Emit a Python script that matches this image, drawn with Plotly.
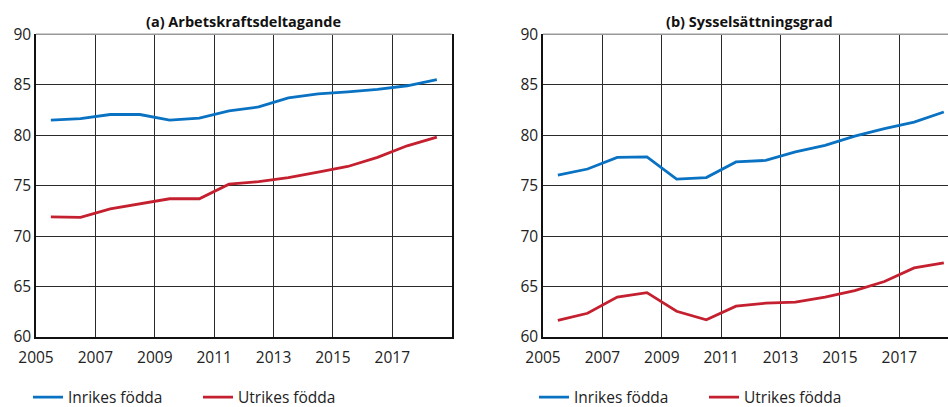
import plotly.graph_objects as go

years = [2005.5, 2006.5, 2007.5, 2008.5, 2009.5, 2010.5, 2011.5, 2012.5,
         2013.5, 2014.5, 2015.5, 2016.5, 2017.5, 2018.5]

# (a) Arbetskraftsdeltagande
a_inrikes = [81.5, 81.65, 82.05, 82.05, 81.5, 81.7, 82.4, 82.8,
             83.7, 84.1, 84.3, 84.55, 84.9, 85.5]
a_utrikes = [71.9, 71.85, 72.7, 73.2, 73.7, 73.7, 75.15, 75.4,
             75.8, 76.35, 76.9, 77.8, 78.95, 79.8]

# (b) Sysselsättningsgrad
b_inrikes = [76.05, 76.65, 77.8, 77.85, 75.65, 75.8, 77.35, 77.5,
             78.35, 79.0, 79.9, 80.65, 81.3, 82.3]
b_utrikes = [61.65, 62.35, 63.95, 64.4, 62.55, 61.7, 63.05, 63.35,
             63.45, 63.95, 64.6, 65.5, 66.85, 67.35]

series_names = ["Inrikes födda", "Utrikes födda"]
titles = ["(a) Arbetskraftsdeltagande", "(b) Sysselsättningsgrad"]
x_ticks = [2005, 2007, 2009, 2011, 2013, 2015, 2017]
y_ticks = [60, 65, 70, 75, 80, 85, 90]

BLUE = "#0a72c2"
RED = "#c4202f"
FONT = "Open Sans"
GRID = "#2a2a2a"

W, H = 948, 407
def px_x(p):
    return p / W
def px_y(p):
    return 1 - p / H

fig = go.Figure()

fig.add_trace(go.Scatter(x=years, y=a_inrikes, name=series_names[0], mode="lines",
                         line=dict(color=BLUE, width=2.8), xaxis="x", yaxis="y",
                         legend="legend"))
fig.add_trace(go.Scatter(x=years, y=a_utrikes, name=series_names[1], mode="lines",
                         line=dict(color=RED, width=2.8), xaxis="x", yaxis="y",
                         legend="legend"))
fig.add_trace(go.Scatter(x=years, y=b_inrikes, name=series_names[0], mode="lines",
                         line=dict(color=BLUE, width=2.8), xaxis="x2", yaxis="y2",
                         legend="legend2"))
fig.add_trace(go.Scatter(x=years, y=b_utrikes, name=series_names[1], mode="lines",
                         line=dict(color=RED, width=2.8), xaxis="x2", yaxis="y2",
                         legend="legend2"))

ydom = [px_y(337), px_y(34.3)]
xdom1 = [px_x(36), px_x(451.7)]
xdom2 = [px_x(543), 1.0]

xcommon = dict(tickvals=x_ticks, ticktext=[str(v) for v in x_ticks],
               showgrid=True, gridcolor=GRID, gridwidth=1.3,
               showline=True, linecolor="#111111", linewidth=1.5,
               zeroline=False, ticks="", ticklabelstandoff=6, automargin=False,
               tickfont=dict(family=FONT, size=15.5, color="#222"))
ycommon = dict(tickvals=y_ticks, range=[60, 90],
               showgrid=True, gridcolor=GRID, gridwidth=1.3,
               showline=True, linecolor="#111111", linewidth=1.5,
               zeroline=False, ticks="", automargin=False,
               tickfont=dict(family=FONT, size=15.5, color="#222"))

fig.update_layout(
    width=W, height=H,
    margin=dict(l=0, r=0, t=0, b=0, autoexpand=False),
    paper_bgcolor="white", plot_bgcolor="white",
    font=dict(family=FONT, color="#222"),
    xaxis=dict(domain=xdom1, range=[2005, 2019], anchor="y", **xcommon),
    yaxis=dict(domain=ydom, anchor="x", mirror=True, **ycommon),
    xaxis2=dict(domain=xdom2, range=[2005, 2005 + (948 - 543) / 29.69], anchor="y2", **xcommon),
    yaxis2=dict(domain=ydom, anchor="x2", **ycommon),
    legend=dict(orientation="h", x=px_x(28), y=px_y(397.5), xanchor="left", yanchor="middle",
                font=dict(family=FONT, size=15.5, color="#222"),
                entrywidth=125, bgcolor="rgba(0,0,0,0)", tracegroupgap=0),
    legend2=dict(orientation="h", x=px_x(534), y=px_y(397.5), xanchor="left", yanchor="middle",
                 font=dict(family=FONT, size=15.5, color="#222"),
                 entrywidth=125, bgcolor="rgba(0,0,0,0)", tracegroupgap=0),
    showlegend=True,
)

# gray top borders
for xd in (xdom1, xdom2):
    fig.add_shape(type="line", xref="paper", yref="paper", x0=xd[0], x1=xd[1],
                  y0=ydom[1], y1=ydom[1], line=dict(color="#999999", width=1.5))

fig.add_annotation(text="<b>" + titles[0] + "</b>", x=px_x(243.8), y=px_y(21.7),
                   xref="paper", yref="paper", showarrow=False,
                   xanchor="center", yanchor="middle",
                   font=dict(family=FONT, size=14.5, color="#111"))
fig.add_annotation(text="<b>" + titles[1] + "</b>", x=px_x(749.5), y=px_y(21.7),
                   xref="paper", yref="paper", showarrow=False,
                   xanchor="center", yanchor="middle",
                   font=dict(family=FONT, size=14.5, color="#111"))

fig.write_html("out.html", config={"displayModeBar": False},
               post_script="document.body.style.margin='0';document.body.style.overflow='hidden';")
